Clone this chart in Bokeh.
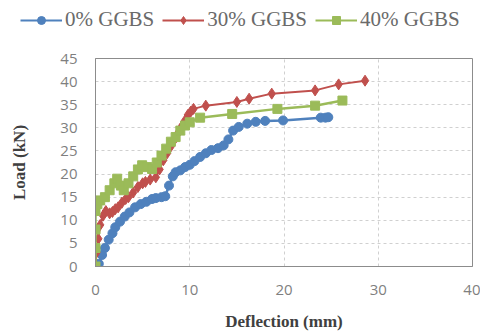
from bokeh.plotting import figure
from bokeh.layouts import column, row
from bokeh.models import Legend, LegendItem, Range1d, FixedTicker
from bokeh.embed import file_html
from bokeh.resources import INLINE

x_0 = [0, 0.35, 0.7, 1.0, 1.4, 1.8, 2.1, 2.6, 3.1, 3.6, 4.2, 4.8, 5.4, 6.0, 6.4, 7.0, 7.4, 7.8, 8.2, 8.5,
       9.0, 9.5, 10.0, 10.5, 11.1, 11.7, 12.3, 13.0, 13.6, 14.1, 14.6, 15.2, 16.1, 17.0, 18.0, 19.9, 23.9, 24.4, 24.7]
y_0 = [0, 0.6, 2.5, 4, 5.8, 7.2, 8.5, 9.7, 10.8, 11.7, 12.8, 13.5, 14, 14.6, 14.8, 15, 15.2, 17.5, 19.5, 20.4,
       20.8, 21.5, 22, 22.8, 23.7, 24.5, 25.2, 25.6, 26.2, 27.5, 29.4, 30.2, 30.9, 31.3, 31.5, 31.6, 32.2, 32.2, 32.3]

x_30 = [0, 0.1, 0.3, 0.5, 0.8, 1.1, 1.5, 1.8, 2.1, 2.4, 2.8, 3.2, 3.5, 4.0, 4.5, 5.0, 5.3, 5.8, 6.4, 6.8,
        7.2, 7.6, 8.0, 8.4, 8.8, 9.2, 9.5, 9.8, 10.1, 10.4, 11.7, 15.0, 16.3, 18.7, 23.3, 25.8, 28.6]
y_30 = [0, 3, 6, 9, 11, 12, 11.5, 11.8, 12.4, 12.8, 13.8, 14.6, 15, 16, 17.2, 18, 18.3, 18.8, 19.3, 21,
        23, 24.5, 26, 27.5, 29, 30.5, 31.6, 32.8, 33.5, 34.1, 34.8, 35.6, 36.3, 37.4, 38.1, 39.4, 40.2]

x_40 = [0, 0, 0, 0, 0.2, 0.5, 1.0, 1.5, 2.0, 2.3, 2.7, 3.0, 3.5, 4.0, 4.5, 4.95, 5.5, 6.0, 6.5, 7.0,
        7.5, 8.0, 8.5, 9.0, 9.5, 10.0, 11.1, 14.5, 19.3, 23.3, 26.2]
y_40 = [0, 4, 8, 12, 13.5, 14.3, 15, 16.5, 18, 19, 17.5, 16.5, 18, 19.5, 21, 21.9, 21.5, 21.1, 22.5, 24,
        25.5, 27, 28, 29.4, 30.5, 31.2, 32.2, 33, 34.1, 34.8, 35.9]

x_ticks = [0, 10, 20, 30, 40]
y_ticks = [0, 5, 10, 15, 20, 25, 30, 35, 40, 45]
labels = ["0% GGBS", "30% GGBS", "40% GGBS"]
colors = ["#4F81BD", "#C0504D", "#9BBB59"]
markers = ["circle", "diamond", "square"]
msizes = [9, 11, 9]

# main chart
p = figure(frame_width=377, frame_height=208, min_border_left=95, min_border_right=8,
           min_border_top=18, min_border_bottom=68, output_backend="svg", toolbar_location=None,
           x_range=Range1d(0, 40), y_range=Range1d(0, 45))
p.background_fill_color = "white"
p.border_fill_color = "white"
p.outline_line_color = "#8C8C8C"
p.outline_line_width = 1

for ax in (p.xaxis[0], p.yaxis[0]):
    ax.major_tick_line_color = None
    ax.minor_tick_line_color = None
    ax.axis_line_color = "#8C8C8C"
    ax.major_label_text_font = "Open Sans"
    ax.major_label_text_font_size = "15px"
    ax.major_label_text_color = "#7F7F7F"
    ax.axis_label_text_font = "Liberation Serif"
    ax.axis_label_text_font_style = "bold"
    ax.axis_label_text_font_size = "17px"
    ax.axis_label_text_color = "#404040"
p.xaxis.ticker = FixedTicker(ticks=x_ticks)
p.yaxis.ticker = FixedTicker(ticks=y_ticks)
p.xaxis.major_label_standoff = 12
p.yaxis.major_label_standoff = 12
p.xaxis.axis_label = "Deflection (mm)"
p.yaxis.axis_label = "Load (kN)"
p.xaxis.axis_label_standoff = 14
p.yaxis.axis_label_standoff = 28

p.xgrid.ticker = FixedTicker(ticks=x_ticks)
p.ygrid.ticker = FixedTicker(ticks=y_ticks)
p.grid.grid_line_color = "#D0D0D0"
p.grid.grid_line_dash = "3 3"
p.grid.grid_line_width = 1

series = [(x_0, y_0), (x_30, y_30), (x_40, y_40)]
lwidths = [2.5, 2, 2.5]
for (xs, ys), c, m, s, lw in zip(series, colors, markers, msizes, lwidths):
    p.line(xs, ys, line_color=c, line_width=lw)
    p.scatter(xs, ys, marker=m, size=s, fill_color=c, line_color=c)

# legend strip on top: same series, drawn outside its (empty) view, used only for the legend
lg = figure(width=480, height=40, output_backend="svg", toolbar_location=None,
            min_border=0, x_range=Range1d(100, 101), y_range=Range1d(100, 101))
lg.axis.visible = False
lg.grid.visible = False
lg.outline_line_color = None
lg.background_fill_color = "white"
lg.border_fill_color = "white"
items = []
for (xs, ys), lab, c, m, s in zip(series, labels, colors, markers, msizes):
    rl = lg.line(xs, ys, line_color=c, line_width=2)
    rm = lg.scatter(xs, ys, marker=m, size=s, fill_color=c, line_color=c)
    items.append(LegendItem(label=lab, renderers=[rl, rm]))
legend = Legend(items=items, orientation="horizontal", location=(20, 8),
                label_text_font="Liberation Serif", label_text_font_size="21px",
                label_text_color="#6A6A6A", glyph_width=42, label_standoff=3,
                spacing=8, padding=2, margin=0,
                border_line_color=None, background_fill_alpha=0)
lg.add_layout(legend, "center")

layout = column(row(lg), p, spacing=0)
open("out.html", "w").write(file_html(layout, INLINE))
